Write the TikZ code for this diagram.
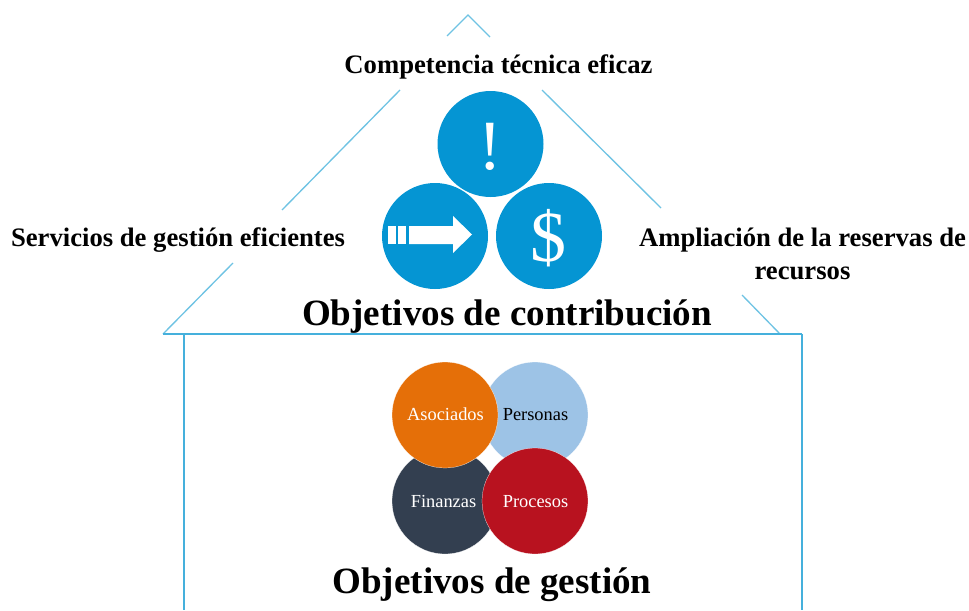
\documentclass[tikz,border=0pt]{standalone}
\usepackage{fontspec}
\setmainfont{Liberation Serif}
\usetikzlibrary{arrows.meta}
\definecolor{roofline}{HTML}{6FC3E3}
\definecolor{wallline}{HTML}{45B0DC}
\definecolor{blueC}{HTML}{0595D3}
\definecolor{orangeC}{HTML}{E56F08}
\definecolor{lightC}{HTML}{9DC3E6}
\definecolor{navyC}{HTML}{333F50}
\definecolor{redC}{HTML}{B8121F}
\tikzset{
 roof/.style={draw=roofline,line width=1pt},
 wall/.style={draw=wallline,line width=1.3pt},
 bluecirc/.style={circle,fill=blueC,minimum size=79.5pt,inner sep=0pt},
 glyph/.style={text=white,inner sep=0pt},
 mgmt/.style={circle,draw=white,line width=0.15pt,minimum size=79.5pt,inner sep=0pt},
 mtext/.style={inner sep=0pt,font=\fontsize{13.8}{16}\selectfont},
 head/.style={font=\fontsize{20}{24.6}\selectfont\bfseries,align=center},
 title/.style={font=\fontsize{27.8}{32}\selectfont\bfseries},
}
\begin{document}
\begin{tikzpicture}[x=0.75pt,y=-0.75pt]
\useasboundingbox (0,0) rectangle (969,610);
% roof
\coordinate (ap1) at (447,36); \coordinate (ap) at (468,15); \coordinate (ap2) at (490,37);
\coordinate (l1) at (400,90); \coordinate (l2) at (282,210);
\coordinate (l3) at (233,263); \coordinate (l4) at (163,334);
\coordinate (r1) at (542,90); \coordinate (r2) at (661,208);
\coordinate (r3) at (742,295); \coordinate (r4) at (780,334);
\coordinate (tr) at (802,334); \coordinate (wl) at (184,334);
\coordinate (wlb) at (184,610); \coordinate (wrb) at (802,610);
\draw[roof] (ap1) -- (ap) -- (ap2);
\draw[roof] (l1) -- (l2);
\draw[roof] (l3) -- (l4);
\draw[roof] (r1) -- (r2);
\draw[roof] (r3) -- (r4);
\draw[wall] (l4) -- (tr);
\draw[wall] (wl) -- (wlb);
\draw[wall] (tr) -- (wrb);
% blue circles
\node[bluecirc] (c1) at (490.5,144) {};
\node[glyph,font=\fontsize{53}{53}\selectfont] (c1t) at (490.5,147) {!};
\node[bluecirc] (c2) at (435,236) {};
\node[bluecirc] (c3) at (549,236) {};
\node[glyph,font=\fontsize{54}{54}\selectfont] (c3t) at (548,238) {\$};
\fill[white] (388,226) rectangle (396,244);
\fill[white] (398,226) rectangle (406,244);
\fill[white] (409,226) -- (453,226) -- (453,216) -- (472,234.5) -- (453,253) -- (453,244) -- (409,244) -- cycle;
% management circles
\node[mgmt,fill=lightC] (pe) at (535,415) {};
\node[mgmt,fill=navyC] (fi) at (445,501) {};
\node[mgmt,fill=orangeC] (as) at (445,415) {};
\node[mgmt,fill=redC] (pr) at (535,501) {};
\node[mtext,text=black,anchor=base] (pet) at (535.5,420) {Personas};
\node[mtext,text=white,anchor=base] (fit) at (443.5,507) {Finanzas};
\node[mtext,text=white,anchor=base] (ast) at (445.5,420) {Asociados};
\node[mtext,text=white,anchor=base] (prt) at (535.5,507) {Procesos};
% text
\node[head] (t1) at (498.5,67) {Competencia técnica eficaz};
\node[head] (t2) at (178,240) {Servicios de gestión eficientes};
\node[head] (t3) at (802.5,254) {Ampliación de la reservas de\\recursos};
\node[title] (t4) at (507,316.5) {Objetivos de contribución};
\node[title] (t5) at (492,585) {Objetivos de gestión};
\end{tikzpicture}
\end{document}
